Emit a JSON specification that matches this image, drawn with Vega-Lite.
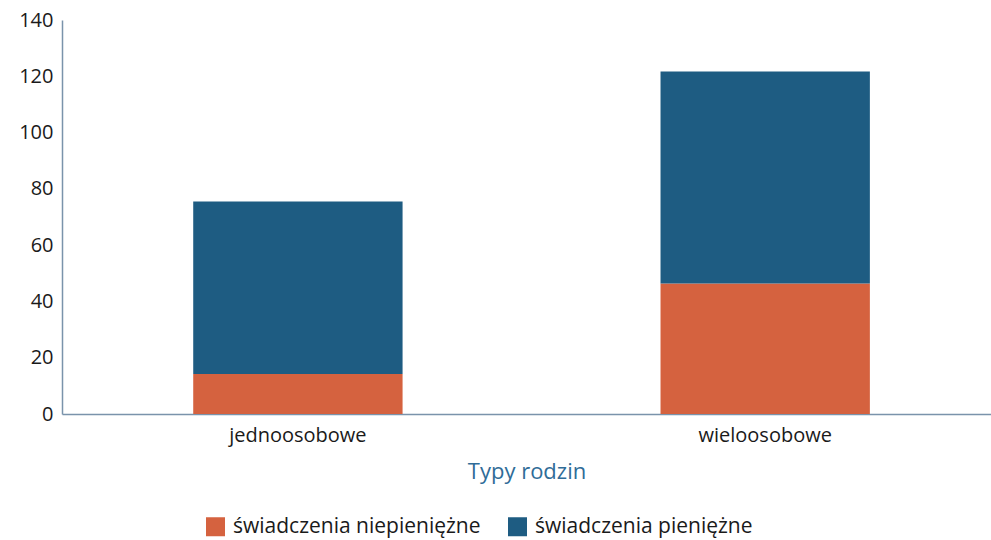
{
  "$schema": "https://vega.github.io/schema/vega-lite/v6.json",
  "width": 929,
  "height": 394,
  "autosize": {"type": "none"},
  "padding": {"left": 62, "top": 20, "right": 0, "bottom": 126},
  "background": "white",
  "config": {
    "view": {"stroke": null},
    "font": "Open Sans"
  },
  "data": {
    "values": [
      {"typ": "jednoosobowe", "rodzaj": "świadczenia niepieniężne", "kolejnosc": 1, "wartosc": 14.2},
      {"typ": "jednoosobowe", "rodzaj": "świadczenia pieniężne", "kolejnosc": 2, "wartosc": 61.3},
      {"typ": "wieloosobowe", "rodzaj": "świadczenia niepieniężne", "kolejnosc": 1, "wartosc": 46.4},
      {"typ": "wieloosobowe", "rodzaj": "świadczenia pieniężne", "kolejnosc": 2, "wartosc": 75.3}
    ]
  },
  "mark": {"type": "bar"},
  "encoding": {
    "x": {
      "field": "typ",
      "type": "nominal",
      "scale": {"paddingInner": 0.552, "paddingOuter": 0.27, "align": 0.52},
      "axis": {
        "title": "Typy rodzin",
        "titleColor": "#2f6c98",
        "titleFont": "Open Sans",
        "titleFontSize": 22,
        "titleFontWeight": "normal",
        "titlePadding": 16,
        "labelAngle": 0,
        "labelFontSize": 20,
        "labelColor": "#1a1a1a",
        "labelPadding": 11,
        "ticks": false,
        "domainColor": "#7a93ab",
        "domainWidth": 1.5
      }
    },
    "y": {
      "field": "wartosc",
      "type": "quantitative",
      "stack": "zero",
      "scale": {"domain": [0, 140]},
      "axis": {
        "title": null,
        "values": [0, 20, 40, 60, 80, 100, 120, 140],
        "grid": false,
        "ticks": false,
        "labelFontSize": 20,
        "labelColor": "#1a1a1a",
        "labelPadding": 9,
        "domainColor": "#7a93ab",
        "domainWidth": 1.5
      }
    },
    "order": {"field": "kolejnosc", "type": "quantitative", "sort": "ascending"},
    "color": {
      "field": "rodzaj",
      "type": "nominal",
      "scale": {
        "domain": ["świadczenia niepieniężne", "świadczenia pieniężne"],
        "range": ["#d5623f", "#1e5c82"]
      },
      "legend": {
        "title": null,
        "orient": "none",
        "legendX": 143,
        "legendY": 496,
        "direction": "horizontal",
        "symbolType": "square",
        "symbolSize": 361,
        "symbolStrokeWidth": 0,
        "labelFontSize": 21,
        "labelColor": "#1a1a1a",
        "labelOffset": 7,
        "labelLimit": 400,
        "columnPadding": 26
      }
    }
  }
}
